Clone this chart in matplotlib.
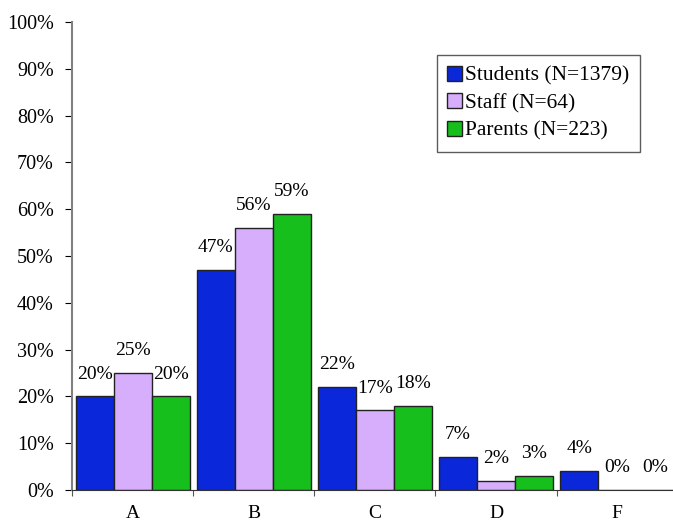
import matplotlib
matplotlib.use("Agg")
import matplotlib.pyplot as plt
import numpy as np

categorias = ["A", "B", "C", "D", "F"]
estudiantes = [20, 47, 22, 7, 4]
personal = [25, 56, 17, 2, 0]
padres = [20, 59, 18, 3, 0]
series = ["Students (N=1379)", "Staff (N=64)", "Parents (N=223)"]
colores = ["#0A28DA", "#D6AEFC", "#16BF1C"]

plt.rcParams["font.family"] = ["Liberation Serif", "DejaVu Serif"]

fig = plt.figure(figsize=(6.73, 5.21), dpi=100)
ax = fig.add_axes([0.107, 0.0595, 0.9, 0.898])

x = np.arange(len(categorias))
ancho = 0.314
for i, (vals, nombre, color) in enumerate(zip([estudiantes, personal, padres], series, colores)):
    pos = x + (i - 1) * ancho
    ax.bar(pos, vals, width=ancho, color=color, edgecolor="#222222", linewidth=1, label=nombre)
    for px, v in zip(pos, vals):
        ax.annotate(f"{v}%", (px, v), textcoords="offset points", xytext=(0, 10),
                    ha="center", va="bottom", fontsize=14)

ax.set_xlim(-0.5, len(categorias) - 0.5)
ax.set_ylim(0, 100)
ax.set_yticks(range(0, 101, 10))
ax.set_yticklabels([f"{v}%" for v in range(0, 101, 10)], fontsize=14.5)
ax.set_xticks(np.arange(-0.5, len(categorias), 1.0))
ax.set_xticklabels([])
ax.set_xticks(x, minor=True)
ax.set_xticklabels(categorias, minor=True, fontsize=14)
ax.tick_params(axis="x", which="minor", length=0, pad=11)
ax.tick_params(axis="x", which="major", length=4, color="#555555")
ax.tick_params(axis="y", length=5, pad=8, color="black")

for lado in ["top", "right"]:
    ax.spines[lado].set_visible(False)
ax.spines["left"].set_color("#808080")
ax.spines["left"].set_linewidth(1.5)
ax.spines["bottom"].set_color("#333333")

leg = ax.legend(loc="upper left", bbox_to_anchor=(0.602, 0.93), fontsize=15.5,
                frameon=True, fancybox=False, edgecolor="#333333",
                handlelength=0.7, handleheight=0.7, handletextpad=0.1,
                borderpad=0.5, labelspacing=0.35, borderaxespad=0)
leg.get_frame().set_linewidth(1)

fig.savefig("out.png", dpi=100)
